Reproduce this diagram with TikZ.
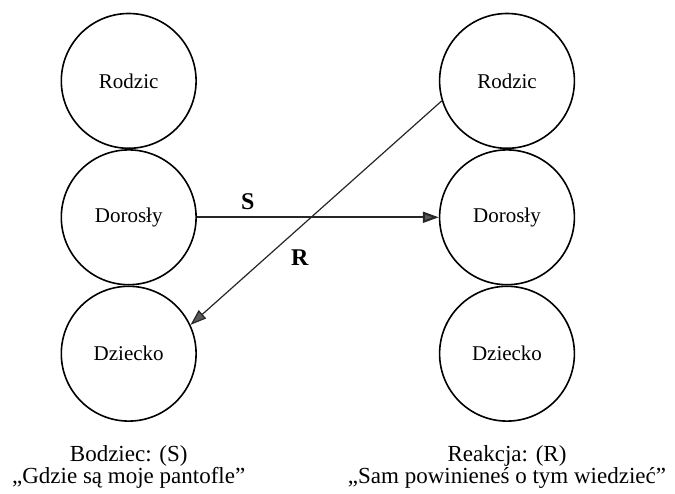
\documentclass[tikz,border=0pt]{standalone}
\usepackage{fontspec}
\setmainfont{Liberation Serif}
\usetikzlibrary{arrows.meta,positioning}
\tikzset{
    person/.style={
        circle,
        draw,
        line width=0.8pt,
        minimum size=67.4pt,
        inner sep=0pt,
        font=\fontsize{10.5}{12}\selectfont
    },
    link/.style={
        -{Triangle[length=8pt,width=5.5pt,fill=black!65]},
        draw=black!85
    },
    tag/.style={
        font=\fontsize{12}{14}\selectfont\bfseries
    },
    caption/.style={
        anchor=base,
        font=\fontsize{11.5}{13}\selectfont
    }
}

\begin{document}
\begin{tikzpicture}[x=0.5pt,y=0.5pt]
\useasboundingbox (0,0) rectangle (675,493);
\node[person] (lR) at (128.7,412.1) {Rodzic};
\node[person,below=0pt of lR] (lD) {Dorosły};
\node[person,below=0pt of lD] (lDz) {Dziecko};
\node[person] (rR) at (507,412.1) {Rodzic};
\node[person,below=0pt of rR] (rD) {Dorosły};
\node[person,below=0pt of rD] (rDz) {Dziecko};
\draw[link,line width=1pt]
  (lD) -- node[tag,pos=0.21,above] {S} (rD);
\draw[link,line width=0.6pt]
  (rR.197) -- node[tag,pos=0.7,right=9pt] {R} (lDz.25);
\node[caption] (bodziec) at (128.7,32) {Bodziec: (S)};
\node[caption] (pytanie) at (128.7,9.7) {„Gdzie są moje pantofle”};
\node[caption] (reakcja) at (507,32) {Reakcja: (R)};
\node[caption] (odpowiedz) at (507,9.7) {„Sam powinieneś o tym wiedzieć”};
\end{tikzpicture}
\end{document}
